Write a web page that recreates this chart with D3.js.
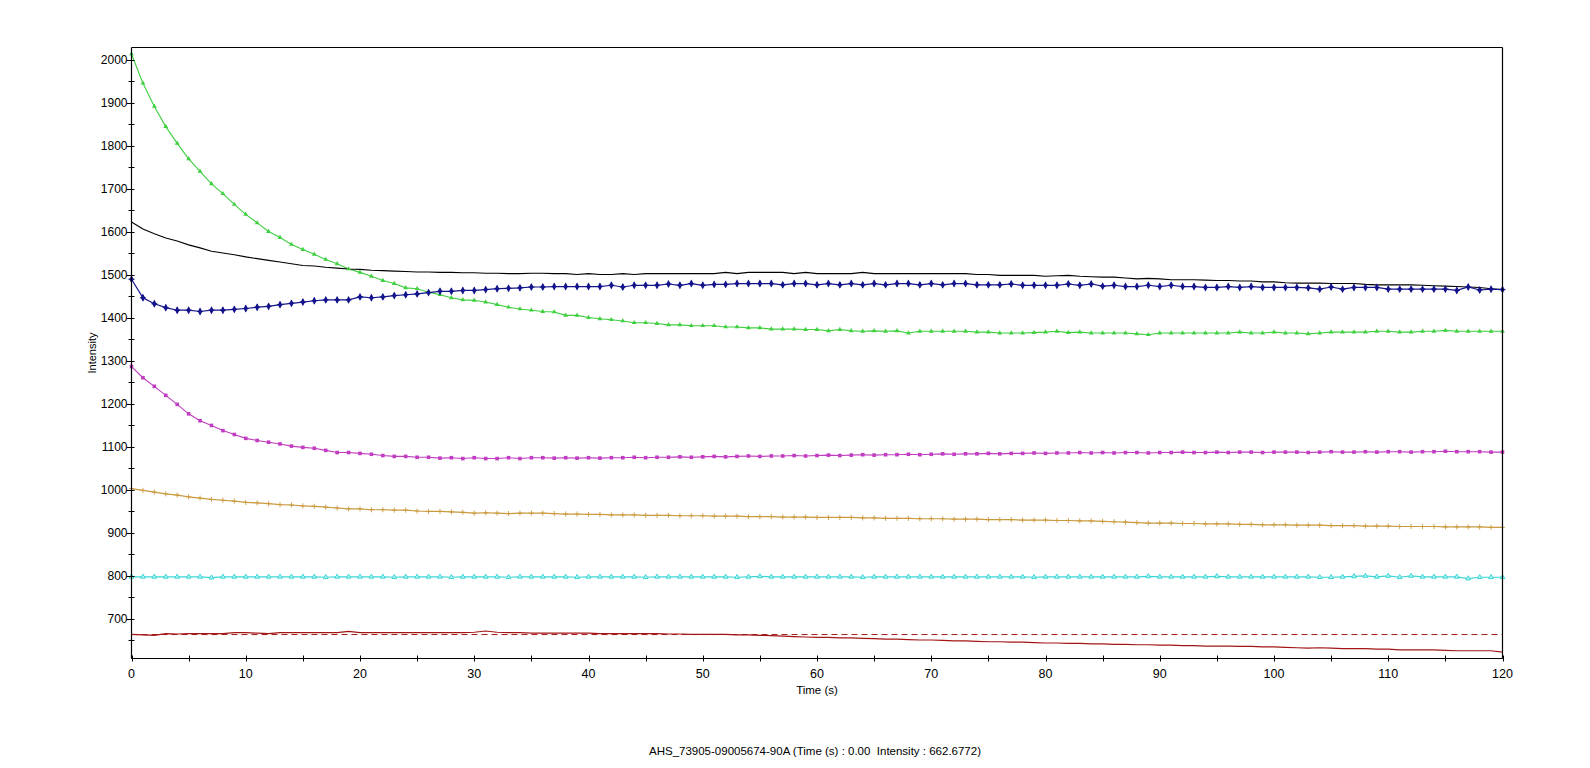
<!DOCTYPE html>
<html>
<head>
<meta charset="utf-8">
<script src="https://cdn.jsdelivr.net/npm/d3@7"></script>
<style>
  html, body { margin: 0; padding: 0; background: #ffffff; }
  svg { display: block; }
  text { font-family: "Liberation Sans Narrow", "Arial Narrow", "Liberation Sans", Arial, sans-serif; fill: #000; }
</style>
</head>
<body>
<svg id="chart" width="1590" height="768"></svg>
<script>
// ---------------- DATA ----------------
const time = [0,1,2,3,4,5,6,7,8,9,10,11,12,13,14,15,16,17,18,19,20,21,22,23,24,25,26,27,28,29,30,31,32,33,34,35,36,37,38,39,40,41,42,43,44,45,46,47,48,49,50,51,52,53,54,55,56,57,58,59,60,61,62,63,64,65,66,67,68,69,70,71,72,73,74,75,76,77,78,79,80,81,82,83,84,85,86,87,88,89,90,91,92,93,94,95,96,97,98,99,100,101,102,103,104,105,106,107,108,109,110,111,112,113,114,115,116,117,118,119,120];

const greenSeries = [2013,1945,1891,1844,1805,1769,1740,1711,1688,1663,1640,1620,1600,1586,1570,1558,1547,1535,1525,1513,1505,1496,1486,1479,1469,1467,1459,1453,1446,1441,1440,1436,1430,1424,1420,1417,1414,1413,1405,1405,1400,1397,1395,1392,1388,1388,1386,1383,1383,1381,1381,1381,1378,1378,1376,1376,1373,1373,1373,1372,1372,1369,1372,1369,1368,1369,1368,1369,1364,1368,1368,1368,1368,1368,1366,1366,1364,1364,1364,1365,1366,1368,1365,1366,1364,1364,1364,1364,1362,1360,1364,1364,1364,1364,1364,1364,1364,1366,1364,1364,1366,1364,1364,1362,1364,1366,1366,1366,1366,1368,1368,1366,1366,1368,1368,1370,1368,1368,1368,1368,1368];

const blackSeries = [1622,1606,1595,1585,1578,1569,1562,1554,1550,1546,1541,1537,1533,1529,1525,1521,1520,1517,1515,1513,1512,1510,1509,1508,1507,1506,1506,1505,1505,1504,1504,1503,1503,1502,1502,1503,1503,1502,1502,1500,1502,1500,1500,1502,1500,1502,1502,1502,1502,1502,1502,1502,1505,1502,1505,1505,1505,1505,1502,1505,1502,1502,1502,1502,1505,1502,1502,1502,1502,1502,1502,1502,1502,1502,1500,1500,1498,1498,1498,1498,1496,1497,1498,1496,1495,1494,1494,1492,1490,1491,1490,1488,1488,1488,1487,1486,1486,1485,1485,1483,1483,1481,1480,1480,1480,1479,1479,1479,1477,1476,1476,1476,1476,1475,1474,1473,1472,1471,1470,1467,1465];

const navySeries = [1489,1446,1432,1423,1417,1417,1414,1417,1417,1419,1421,1424,1426,1430,1433,1436,1439,1441,1441,1441,1448,1446,1448,1451,1453,1455,1458,1461,1461,1463,1463,1465,1467,1468,1469,1471,1471,1472,1472,1472,1472,1472,1475,1471,1475,1475,1475,1478,1475,1479,1475,1477,1477,1479,1479,1479,1479,1476,1479,1479,1476,1479,1476,1479,1476,1479,1476,1479,1479,1476,1479,1476,1479,1479,1476,1476,1476,1478,1475,1475,1475,1475,1478,1475,1478,1473,1475,1472,1472,1475,1472,1475,1472,1472,1470,1470,1472,1470,1472,1470,1470,1470,1470,1469,1466,1471,1466,1470,1470,1470,1466,1466,1466,1466,1466,1466,1463,1471,1464,1466,1465];

const magentaSeries = [1286,1260,1240,1219,1198,1176,1160,1149,1137,1128,1119,1114,1110,1106,1101,1098,1096,1091,1086,1086,1084,1082,1079,1077,1077,1075,1075,1073,1074,1072,1074,1072,1072,1074,1072,1074,1074,1073,1074,1073,1074,1073,1074,1074,1075,1074,1075,1075,1076,1075,1076,1077,1076,1077,1078,1077,1078,1078,1079,1078,1079,1080,1079,1080,1081,1080,1081,1081,1082,1081,1082,1083,1082,1083,1083,1084,1083,1084,1084,1085,1084,1085,1085,1086,1085,1086,1085,1086,1086,1085,1086,1086,1087,1086,1086,1087,1086,1087,1087,1086,1087,1087,1087,1086,1087,1088,1087,1087,1088,1087,1088,1088,1087,1088,1088,1089,1088,1088,1088,1087,1087];

const goldSeries = [1002,998,994,990,987,983,980,977,975,973,970,969,967,965,964,962,961,959,957,955,955,953,953,952,952,950,949,949,948,947,945,946,945,944,945,945,945,944,943,943,942,942,941,941,941,940,940,940,939,939,939,938,938,938,937,937,937,936,936,936,935,935,935,935,934,934,933,933,933,932,932,932,931,931,931,930,930,930,929,929,929,928,928,927,927,926,925,924,923,922,922,922,921,921,920,920,920,919,919,918,918,918,917,917,917,916,916,916,915,915,915,914,914,914,914,913,913,913,913,912,912];

const cyanSeries = [797,797,797,797,797,797,797,795,797,797,797,797,797,797,797,797,797,796,797,797,797,797,797,796,797,797,797,797,796,797,797,797,797,796,797,797,797,797,797,796,797,797,797,797,797,796,797,797,797,797,797,797,797,796,797,798,797,797,797,797,797,797,797,797,796,797,797,797,797,797,797,797,797,797,797,797,797,797,797,796,797,797,797,797,797,797,797,797,797,798,797,797,797,797,797,798,797,797,797,797,797,797,797,797,796,796,797,798,799,797,799,796,799,797,797,797,797,793,796,796,796];

const redSeries = [663,662,661,665,664,665,665,665,665,667,667,666,665,667,667,667,667,667,667,670,667,667,667,667,667,667,667,667,667,667,668,671,668,667,667,666,666,666,666,666,666,665,665,665,665,665,665,664,664,663,663,663,663,662,662,661,660,659,658,657,656,656,655,655,654,653,652,652,651,650,650,649,648,648,647,646,646,645,645,644,643,643,642,642,641,641,640,640,639,639,638,638,637,637,636,636,636,635,635,634,634,633,632,631,632,631,630,630,630,629,629,627,627,627,627,626,625,625,625,625,622];

const cursorValue = [662.6772, 662.6772];
const cursorTime = [0, 120];

const xTickLabels = [0,10,20,30,40,50,60,70,80,90,100,110,120];
const yTickLabels = [700,800,900,1000,1100,1200,1300,1400,1500,1600,1700,1800,1900,2000];
const xLabel = "Time (s)";
const yLabel = "Intensity";
const caption = "AHS_73905-09005674-90A (Time (s) : 0.00  Intensity : 662.6772)";

// ---------------- CHART ----------------
const svg = d3.select("#chart");
svg.append("rect").attr("width", 1590).attr("height", 768).attr("fill", "#ffffff");

const L = 131.5, R = 1502.5, T = 47.5, B = 658.5;
const x = d3.scaleLinear().domain([0, 120]).range([L, R]);
const y = d3.scaleLinear().domain([607, 2028]).range([B, T]);

const plot = svg.append("g");

// frame: top and right
svg.append("line").attr("x1", L).attr("x2", R).attr("y1", T).attr("y2", T).attr("stroke", "#000").attr("stroke-width", 1.2);
svg.append("line").attr("x1", R).attr("x2", R).attr("y1", T).attr("y2", B).attr("stroke", "#000").attr("stroke-width", 1.2);

const line = d3.line().x((d, i) => x(time[i])).y(d => y(d));

function drawSeries(data, color, width, dash) {
  plot.append("path").datum(data)
    .attr("d", line)
    .attr("fill", "none")
    .attr("stroke", color)
    .attr("stroke-width", width)
    .attr("stroke-dasharray", dash || null);
}

// dashed cursor line
plot.append("path").datum(cursorValue)
  .attr("d", d3.line().x((d, i) => x(cursorTime[i])).y(d => y(d)))
  .attr("fill", "none").attr("stroke", "#a01a1a").attr("stroke-width", 1).attr("stroke-dasharray", "6,4");

const cRed = "#a31515", cCyan = "#3ad6d6", cGold = "#c99a3e", cMag = "#c03cc0", cGreen = "#3fcf3f", cNavy = "#14148c", cBlack = "#000000";

drawSeries(redSeries, cRed, 1.2);
drawSeries(cyanSeries, cCyan, 1.2);
drawSeries(goldSeries, cGold, 1.2);
drawSeries(magentaSeries, cMag, 1.1);
drawSeries(greenSeries, cGreen, 1.1);
drawSeries(blackSeries, cBlack, 1.1);
drawSeries(navySeries, cNavy, 1.2);

// markers
function markers(data, color, type) {
  const g = plot.append("g");
  data.forEach((v, i) => {
    const cx = x(time[i]), cy = y(v);
    if (type === "tri") {
      g.append("path").attr("d", d3.symbol().type(d3.symbolTriangle).size(10)()).attr("transform", `translate(${cx},${cy})`).attr("fill", color);
    } else if (type === "opentri") {
      g.append("path").attr("d", d3.symbol().type(d3.symbolTriangle2).size(16)()).attr("transform", `translate(${cx},${cy})`).attr("fill", "#bff3f3").attr("stroke", color).attr("stroke-width", 1);
    } else if (type === "square") {
      g.append("path").attr("d", d3.symbol().type(d3.symbolSquare).size(13)()).attr("transform", `translate(${cx},${cy})`).attr("fill", color);
    } else if (type === "plus") {
      g.append("path").attr("d", d3.symbol().type(d3.symbolPlus).size(10)()).attr("transform", `translate(${cx},${cy})`).attr("fill", "none").attr("stroke", color).attr("stroke-width", 0.9);
    } else if (type === "star") {
      g.append("path").attr("d", d3.symbol().type(d3.symbolDiamond).size(18)()).attr("transform", `translate(${cx},${cy})`).attr("fill", color);
      g.append("path").attr("d", d3.symbol().type(d3.symbolPlus).size(14)()).attr("transform", `translate(${cx},${cy})`).attr("fill", "none").attr("stroke", color).attr("stroke-width", 1);
    }
  });
}
markers(cyanSeries, cCyan, "opentri");
markers(goldSeries, cGold, "plus");
markers(magentaSeries, cMag, "square");
markers(greenSeries, cGreen, "tri");
markers(navySeries, cNavy, "star");

// axes
svg.append("line").attr("x1", L).attr("x2", L).attr("y1", T).attr("y2", B).attr("stroke", "#000").attr("stroke-width", 1.2);
svg.append("line").attr("x1", L).attr("x2", R).attr("y1", B).attr("y2", B).attr("stroke", "#000").attr("stroke-width", 1.2);

// x ticks (major with labels, minor at 5s)
const xMinor = d3.range(5, 120, 10);
xTickLabels.concat(xMinor).forEach(t => {
  svg.append("line").attr("x1", Math.round(x(t)) + 0.5).attr("x2", Math.round(x(t)) + 0.5)
    .attr("y1", B - 3).attr("y2", B + 3).attr("stroke", "#000").attr("stroke-width", 1);
});
xTickLabels.forEach(t => {
  svg.append("text").attr("x", x(t)).attr("y", B + 19).attr("text-anchor", "middle")
    .attr("font-size", "12.5px").text(t);
});

// y ticks (major with labels, minor at 50)
const yMinor = d3.range(650, 2001, 100);
yTickLabels.forEach(v => {
  svg.append("line").attr("x1", L - 5).attr("x2", L + 3).attr("y1", Math.round(y(v)) + 0.5).attr("y2", Math.round(y(v)) + 0.5).attr("stroke", "#000").attr("stroke-width", 1);
  svg.append("text").attr("x", L - 4).attr("y", y(v) + 4.2).attr("text-anchor", "end")
    .attr("font-size", "12px").text(v);
});
yMinor.forEach(v => {
  svg.append("line").attr("x1", L - 3).attr("x2", L + 3).attr("y1", Math.round(y(v)) + 0.5).attr("y2", Math.round(y(v)) + 0.5).attr("stroke", "#000").attr("stroke-width", 1);
});

// axis titles
svg.append("text").attr("x", (L + R) / 2).attr("y", 694).attr("text-anchor", "middle")
  .attr("font-size", "11.5px").text(xLabel);
svg.append("text").attr("transform", "translate(96,353) rotate(-90)").attr("text-anchor", "middle")
  .attr("font-size", "11px").text(yLabel);

// caption
svg.append("text").attr("x", 815).attr("y", 755).attr("text-anchor", "middle")
  .attr("font-size", "11.5px").style("white-space", "pre").text(caption);
</script>
</body>
</html>
